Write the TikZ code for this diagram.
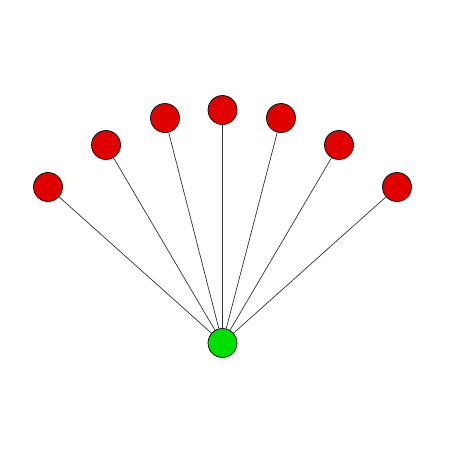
\documentclass[tikz,border=0pt]{standalone}
\usepackage{tikz}
\usetikzlibrary{positioning}
\definecolor{leafred}{RGB}{224,0,0}
\definecolor{rootgreen}{RGB}{0,224,0}
\tikzstyle{vtx}=[circle,draw=black,thin,inner sep=0pt,minimum size=0.58cm]
\tikzstyle{leaf}=[vtx,fill=leafred]
\tikzstyle{root}=[vtx,fill=rootgreen]
\tikzstyle{edge}=[black!80,thin]

\begin{document}
\begin{tikzpicture}[x=0.02cm,y=-0.02cm]
                    \useasboundingbox (0,0) rectangle (450,450);
                    \node[root] (r) at (222.5,343) {};
                    \foreach \xs/\ys/\n in {48/187/l1, 106/145/l2, 165/118/l3, 222.5/110/l4, 281/118/l5, 339/145/l6, 397/187/l7} {
                        \node[leaf] (\n) at (\xs,\ys) {};
                        \draw[edge] (r) -- (\n);}
                \end{tikzpicture}
\end{document}
